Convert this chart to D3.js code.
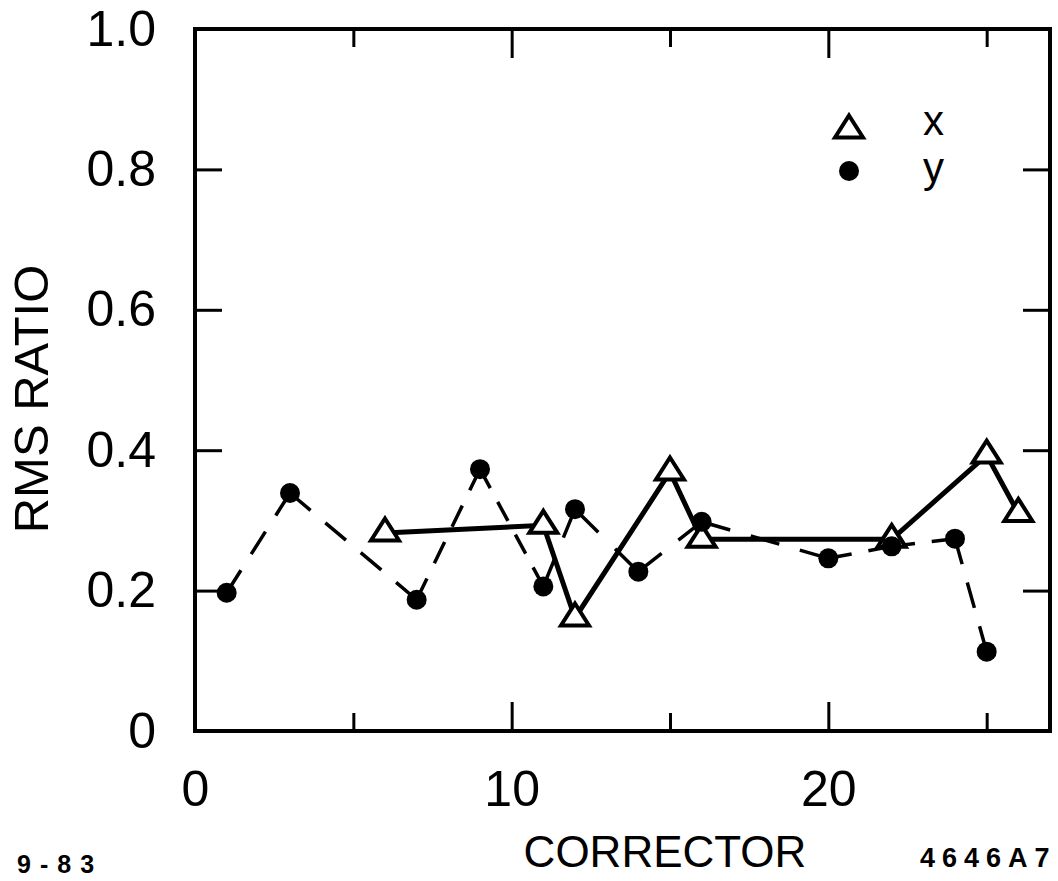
<!DOCTYPE html>
<html lang="en">
<head>
<meta charset="UTF-8" />
<title>RMS ratio vs corrector</title>
<style>
  body { margin: 0; background: #fff; }
  svg text { font-family: "Liberation Sans", Arial, sans-serif; fill: #000; }
</style>
</head>
<body>
<script src="https://cdn.jsdelivr.net/npm/d3@7"></script>
<div id="app"></div>
<script>
// data
const corrX  = [6, 11, 12, 15, 16, 22, 25, 26];
const ratioX = [0.282, 0.293, 0.161, 0.369, 0.273, 0.273, 0.393, 0.310];
const corrY  = [1, 3, 7, 9, 11, 12, 14, 16, 20, 22, 24, 25];
const ratioY = [0.197, 0.339, 0.187, 0.373, 0.206, 0.316, 0.227, 0.298, 0.246, 0.263, 0.274, 0.113];

const xMajor = [0, 10, 20];
const xMinor = [5, 15, 25];
const yTicks = [0, 0.2, 0.4, 0.6, 0.8, 1.0];
const yLabels = ["0", "0.2", "0.4", "0.6", "0.8", "1.0"];

const w = 1058, h = 881;
const mLeft = 195, mRight = 1050, mTop = 29, mBottom = 731;

const svg = d3.select("#app").append("svg")
  .attr("width", w).attr("height", h);

const x = d3.scaleLinear().domain([0, 27]).range([mLeft, mRight]);
const y = d3.scaleLinear().domain([0, 1]).range([mBottom, mTop]);

//Axes (ticks pointing inward)
function styleAxis(g) {
  g.select(".domain").remove();
  g.selectAll(".tick line").attr("stroke", "#000").attr("stroke-width", 3);
  g.selectAll(".tick text").style("font-size", "50px").attr("fill", "#000");
}

svg.append("g")
  .attr("transform", `translate(0,${mBottom})`)
  .call(d3.axisBottom(x).tickValues(xMajor).tickSize(-29).tickPadding(39).tickFormat(d3.format("d")))
  .call(styleAxis);
svg.append("g")
  .attr("transform", `translate(0,${mBottom})`)
  .call(d3.axisBottom(x).tickValues(xMinor).tickSize(-18).tickFormat(""))
  .call(styleAxis);
svg.append("g")
  .attr("transform", `translate(0,${mTop})`)
  .call(d3.axisTop(x).tickValues(xMajor.slice(1)).tickSize(-29).tickFormat(""))
  .call(styleAxis);
svg.append("g")
  .attr("transform", `translate(0,${mTop})`)
  .call(d3.axisTop(x).tickValues(xMinor).tickSize(-18).tickFormat(""))
  .call(styleAxis);
svg.append("g")
  .attr("transform", `translate(${mLeft},0)`)
  .call(d3.axisLeft(y).tickValues(yTicks).tickSize(-27).tickPadding(39).tickFormat((d, i) => yLabels[i]))
  .call(styleAxis);
svg.append("g")
  .attr("transform", `translate(${mRight},0)`)
  .call(d3.axisRight(y).tickValues(yTicks.slice(1, 5)).tickSize(-27).tickFormat(""))
  .call(styleAxis);

//Frame
svg.append("rect")
  .attr("x", mLeft).attr("y", mTop)
  .attr("width", mRight - mLeft).attr("height", mBottom - mTop)
  .attr("fill", "none").attr("stroke", "#000").attr("stroke-width", 4);

//Titles
svg.append("text")
  .attr("transform", "translate(48,399) rotate(-90)")
  .attr("text-anchor", "middle")
  .style("font-size", "49px")
  .text("RMS RATIO");

svg.append("text")
  .attr("x", 665).attr("y", 867)
  .attr("text-anchor", "middle")
  .style("font-size", "44px")
  .text("CORRECTOR");

svg.append("text")
  .attr("x", 17).attr("y", 873)
  .style("font-size", "25px").style("font-weight", "bold")
  .style("letter-spacing", "9px")
  .text("9-83");

svg.append("text")
  .attr("x", 920).attr("y", 867)
  .style("font-size", "27px").style("font-weight", "bold")
  .style("letter-spacing", "7px")
  .text("4646A7");

//Dashed y line, every segment dashed on its own so it starts and ends with a dash
const ptsY = corrY.map((c, i) => [x(c), y(ratioY[i])]);
const dash = 25, gap = 18;
d3.pairs(ptsY).forEach(([a, b]) => {
  const L = Math.hypot(b[0] - a[0], b[1] - a[1]);
  const n = Math.max(1, Math.round((L + gap) / (dash + gap)));
  const k = L / (n * dash + (n - 1) * gap);
  svg.append("path")
    .attr("d", d3.line()([a, b]))
    .attr("fill", "none").attr("stroke", "#000").attr("stroke-width", 3.5)
    .attr("stroke-dasharray", `${dash * k},${gap * k}`);
});

//Solid x line
svg.append("path")
  .datum(corrX.map((c, i) => [x(c), y(ratioX[i])]))
  .attr("d", d3.line())
  .attr("fill", "none").attr("stroke", "#000").attr("stroke-width", 5)
  .attr("stroke-linejoin", "miter");

//Markers
const tri = "M0,-14.5L14,7.5L-14,7.5Z";
svg.selectAll(".tri")
  .data(corrX)
  .enter().append("path")
  .attr("class", "tri")
  .attr("d", tri)
  .attr("transform", (d, i) => `translate(${x(d)},${y(ratioX[i])})`)
  .attr("fill", "#fff").attr("stroke", "#000").attr("stroke-width", 4);

svg.selectAll(".dot")
  .data(corrY)
  .enter().append("circle")
  .attr("class", "dot")
  .attr("cx", d => x(d))
  .attr("cy", (d, i) => y(ratioY[i]))
  .attr("r", 10)
  .attr("fill", "#000");

//Legend
const legend = svg.append("g").attr("transform", "translate(849,0)");
legend.append("path").attr("d", tri).attr("transform", "translate(0,130)")
  .attr("fill", "#fff").attr("stroke", "#000").attr("stroke-width", 4);
legend.append("circle").attr("cx", 0).attr("cy", 171).attr("r", 10).attr("fill", "#000");
legend.append("text").attr("x", 74).attr("y", 135).style("font-size", "42px").text("x");
legend.append("text").attr("x", 74).attr("y", 182).style("font-size", "42px").text("y");
</script>
</body>
</html>
